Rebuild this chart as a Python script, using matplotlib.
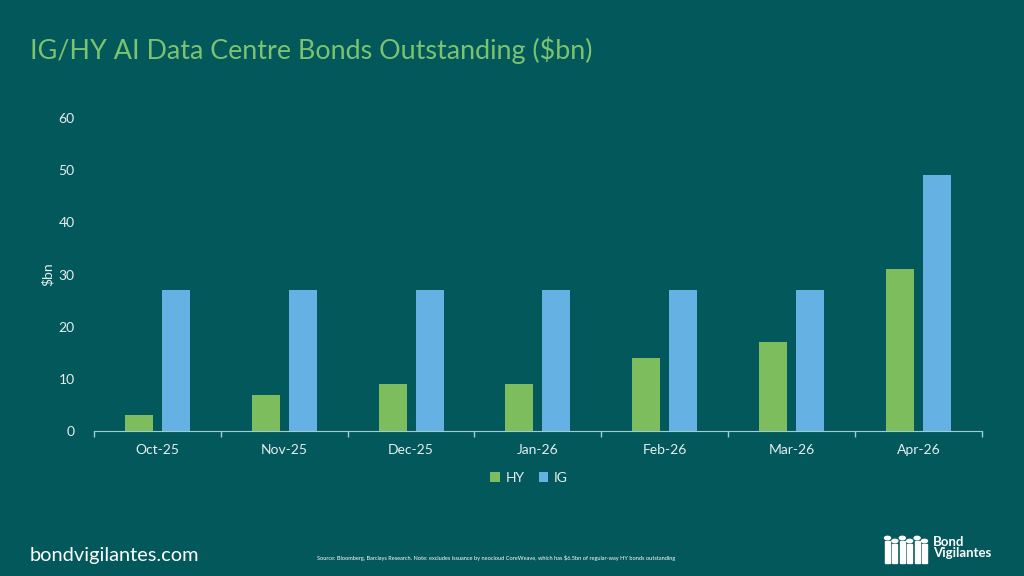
import matplotlib.pyplot as plt
import matplotlib.patches as mpatches
import numpy as np

months = ['Oct-25', 'Nov-25', 'Dec-25', 'Jan-26', 'Feb-26', 'Mar-26', 'Apr-26']
hy = [3, 7, 9, 9, 14, 17, 31]
ig = [27, 27, 27, 27, 27, 27, 49]

bg = '#03585C'
green = '#7DBD5E'
blue = '#66B1E3'
txt = '#E6EEEE'

plt.rcParams['font.family'] = ['Lato', 'DejaVu Sans']

fig = plt.figure(figsize=(10.24, 5.76), dpi=100, facecolor=bg)
ax = fig.add_axes([0.0918, 0.2517, 0.867, 0.5434], facecolor=bg)

x = np.arange(len(months))
w = 0.22
ax.bar(x - 0.146, hy, w, color=green, label='HY')
ax.bar(x + 0.146, ig, w, color=blue, label='IG')

ax.set_xlim(-0.5, len(months) - 0.5)
ax.set_ylim(0, 60)
ax.set_yticks(range(0, 61, 10))
ax.set_xticks(x)
ax.set_xticklabels(months)
ax.set_xticks(np.arange(-0.5, len(months), 1), minor=True)
ax.tick_params(axis='x', which='major', length=0, pad=9, labelsize=10, labelcolor=txt)
ax.tick_params(axis='x', which='minor', length=4, width=1, color='#9CCFD2', direction='out')
ax.tick_params(axis='y', length=0, pad=14, labelsize=10, labelcolor=txt)
for s in ['top', 'right', 'left']:
    ax.spines[s].set_visible(False)
ax.spines['bottom'].set_color('#9CCFD2')
ax.set_ylabel('$bn', color=txt, fontsize=10, labelpad=3)

leg = ax.legend(loc='upper center', bbox_to_anchor=(0.49, -0.09), ncol=2, frameon=False,
                fontsize=10, labelcolor=txt, handlelength=0.7, handleheight=0.7,
                handletextpad=0.4, columnspacing=1.0)

fig.text(0.029, 0.913, 'IG/HY AI Data Centre Bonds Outstanding ($bn)', color='#7CC36E',
         fontsize=19.4, va='center', ha='left')
fig.text(0.029, 0.035, 'bondvigilantes.com', color='white', fontsize=14.4, va='center')
fig.text(0.31, 0.032, 'Source: Bloomberg, Barclays Research. Note: excludes issuance by neocloud CoreWeave, '
         'which has $6.5bn of regular-way HY bonds outstanding', color='white', fontsize=4.1, va='center')

# logo: little row of people plus name
for i, px in enumerate(np.linspace(885, 922, 6)):
    hgt = 22 if i % 2 == 0 else 19
    fig.patches.append(mpatches.Rectangle((px / 1024, (576 - 563) / 576), 5 / 1024, hgt / 576,
                                          transform=fig.transFigure, color='white'))
    fig.patches.append(mpatches.Circle((px / 1024 + 2.5 / 1024, (576 - 563 + hgt + 3) / 576), 3 / 1024,
                                       transform=fig.transFigure, color='white'))
fig.text(0.911, 0.05, 'Bond\nVigilantes', color='white', fontsize=9.5, fontweight='bold',
         va='center', ha='left', linespacing=0.9)

fig.savefig('out.png', dpi=100, facecolor=bg)
